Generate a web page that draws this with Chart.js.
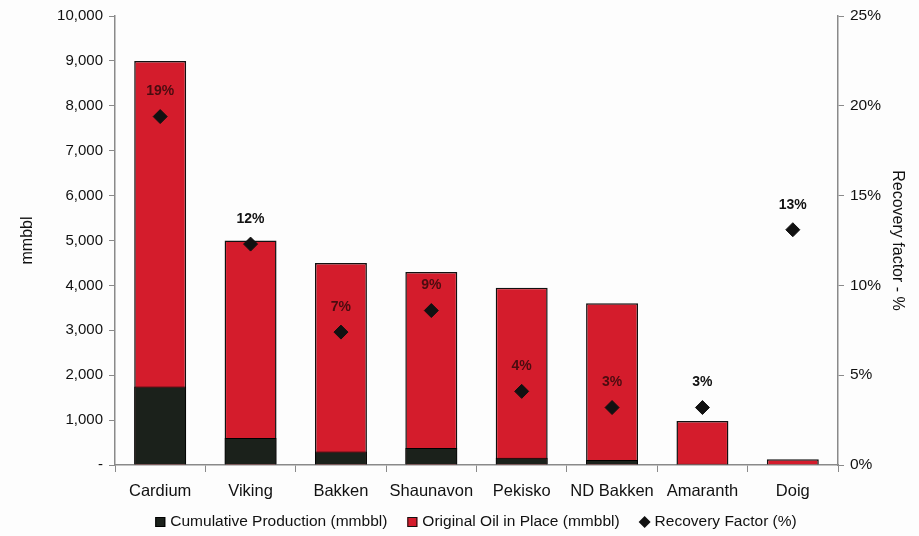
<!DOCTYPE html>
<html>
<head>
<meta charset="utf-8">
<script src="https://cdn.jsdelivr.net/npm/chart.js@4/dist/chart.umd.min.js"></script>
<style>
    html, body { margin: 0; padding: 0; background: #fdfdfd; }
    #wrap { width: 919px; height: 536px; position: relative; }
</style>
</head>
<body>
<div id="wrap"><canvas id="chart"></canvas></div>
<script>
const fields = ['Cardium', 'Viking', 'Bakken', 'Shaunavon', 'Pekisko', 'ND Bakken', 'Amaranth', 'Doig'];
const cumulativeProduction = [1750, 600, 300, 380, 160, 110, 30, 17];
const originalOilInPlace = [9000, 5000, 4500, 4300, 3950, 3600, 980, 130];
const recoveryFactor = [19.4, 12.3, 7.4, 8.6, 4.1, 3.2, 3.2, 13.1];

const FONT = 'Liberation Sans, Arial, sans-serif';
const RED = '#d41c2c';
const DARK = '#1b211b';
const AXIS = '#8a8a8a';

// writes the rounded percentage above each recovery marker
const pointLabels = {
    id: 'pointLabels',
    afterDatasetsDraw(chart) {
        const ctx = chart.ctx;
        const pts = chart.getDatasetMeta(2).data;
        const bars = chart.getDatasetMeta(1).data;
        ctx.save();
        ctx.font = 'bold 14px ' + FONT;
        ctx.textAlign = 'center';
        ctx.textBaseline = 'middle';
        pts.forEach((p, i) => {
            const y = p.y - 25;
            ctx.fillStyle = y > bars[i].y ? '#4a0c10' : '#111';
            ctx.fillText(Math.round(recoveryFactor[i]) + '%', p.x, y);
        });
        ctx.restore();
    }
};

// single-row legend under the axis with wider gaps than the built-in one
const bottomLegend = {
    id: 'bottomLegend',
    afterDraw(chart) {
        const ctx = chart.ctx;
        const sets = chart.data.datasets;
        const box = 10, gap = 5, spacing = 20, y = 522;
        ctx.save();
        ctx.font = '15.5px ' + FONT;
        ctx.textBaseline = 'middle';
        const widths = sets.map(d => box + gap + ctx.measureText(d.label).width);
        const total = widths.reduce((a, b) => a + b, 0) + spacing * (sets.length - 1);
        let x = 476 - total / 2;
        sets.forEach((d, i) => {
            ctx.fillStyle = d.backgroundColor;
            ctx.strokeStyle = d.borderColor;
            ctx.lineWidth = 1;
            if (d.pointStyle === 'rectRot') {
                ctx.beginPath();
                ctx.moveTo(x + box / 2, y - 6);
                ctx.lineTo(x + box / 2 + 6, y);
                ctx.lineTo(x + box / 2, y + 6);
                ctx.lineTo(x + box / 2 - 6, y);
                ctx.closePath();
                ctx.fill();
            } else {
                ctx.fillRect(x, y - box / 2, box, box);
                ctx.strokeRect(x + 0.5, y - box / 2 + 0.5, box - 1, box - 1);
            }
            ctx.fillStyle = '#111';
            ctx.fillText(d.label, x + box + gap, y);
            x += widths[i] + spacing;
        });
        ctx.restore();
    }
};

new Chart(document.getElementById('chart'), {
    type: 'bar',
    data: {
        labels: fields,
        datasets: [
            {
                label: 'Cumulative Production (mmbbl)',
                data: cumulativeProduction,
                backgroundColor: DARK,
                borderColor: '#000',
                borderWidth: 1,
                grouped: false,
                order: 1,
                pointStyle: 'rect'
            },
            {
                label: 'Original Oil in Place (mmbbl)',
                data: originalOilInPlace,
                backgroundColor: RED,
                borderColor: '#111',
                borderWidth: 1.5,
                grouped: false,
                order: 2,
                pointStyle: 'rect'
            },
            {
                type: 'line',
                label: 'Recovery Factor (%)',
                data: recoveryFactor,
                yAxisID: 'y1',
                showLine: false,
                pointStyle: 'rectRot',
                pointRadius: 7,
                backgroundColor: '#111',
                borderColor: '#111',
                order: 0
            }
        ]
    },
    options: {
        responsive: true,
        maintainAspectRatio: false,
        animation: false,
        categoryPercentage: 1,
        barPercentage: 0.575,
        layout: { padding: { top: 16, left: 18, right: 10, bottom: 27 } },
        plugins: {
            tooltip: { enabled: false },
            legend: { display: false }
        },
        scales: {
            x: {
                grid: { offset: true, drawOnChartArea: false, tickLength: 7, color: AXIS },
                border: { color: AXIS, width: 1.5 },
                ticks: { color: '#111', padding: 10, font: { family: FONT, size: 16.5 } },
                afterFit(s) { s.height = 44; }
            },
            y: {
                min: 0,
                max: 10000,
                ticks: {
                    stepSize: 1000,
                    color: '#111',
                    padding: 6,
                    font: { family: FONT, size: 15 },
                    callback: v => v === 0 ? '-' : v.toLocaleString('en-US')
                },
                grid: { drawOnChartArea: false, tickLength: 6, color: AXIS },
                border: { color: AXIS, width: 1.5 },
                title: { display: true, text: 'mmbbl', color: '#111', padding: 0, font: { family: FONT, size: 16 } },
                afterFit(s) { s.width = 97; }
            },
            y1: {
                position: 'right',
                min: 0,
                max: 25,
                ticks: {
                    stepSize: 5,
                    color: '#111',
                    padding: 6,
                    font: { family: FONT, size: 15.5 },
                    callback: v => v + '%'
                },
                grid: { drawOnChartArea: false, tickLength: 6, color: AXIS },
                border: { color: AXIS, width: 1.5 },
                title: { display: true, text: 'Recovery factor - %', color: '#111', padding: 2, font: { family: FONT, size: 16 } },
                afterFit(s) { s.width = 71; }
            }
        }
    },
    plugins: [pointLabels, bottomLegend]
});
</script>
</body>
</html>
